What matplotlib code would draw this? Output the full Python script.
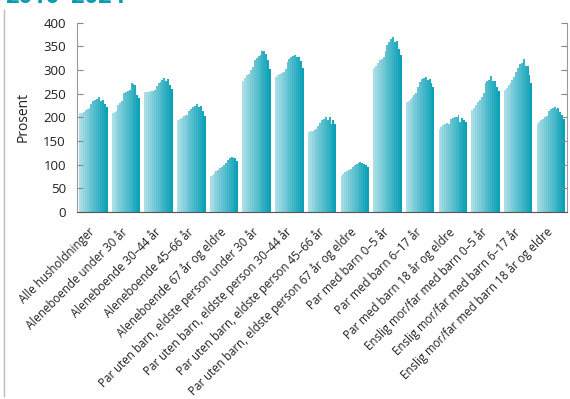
import numpy as np
import matplotlib
matplotlib.use("Agg")
import matplotlib.pyplot as plt
from matplotlib.colors import LinearSegmentedColormap

plt.rcParams['font.family'] = ['Open Sans', 'DejaVu Sans']

# Husholdningstyper
categories = [
    "Alle husholdninger",
    "Aleneboende under 30 år",
    "Aleneboende 30–44 år",
    "Aleneboende 45–66 år",
    "Aleneboende 67 år og eldre",
    "Par uten barn, eldste person under 30 år",
    "Par uten barn, eldste person 30–44 år",
    "Par uten barn, eldste person 45–66 år",
    "Par uten barn, eldste person 67 år og eldre",
    "Par med barn 0–5 år",
    "Par med barn 6–17 år",
    "Par med barn 18 år og eldre",
    "Enslig mor/far med barn 0–5 år",
    "Enslig mor/far med barn 6–17 år",
    "Enslig mor/far med barn 18 år og eldre",
]
years = list(range(2010, 2025))

# Prosent, ett tall per år (2010-2024) for hver husholdningstype
alle = [208, 210, 212, 215, 217, 219, 229, 234, 236, 238, 243, 234, 237, 229, 222]
alene_u30 = [210, 211, 213, 225, 230, 235, 251, 253, 255, 257, 272, 270, 268, 247, 240]
alene_30_44 = [253, 253, 254, 255, 255, 257, 265, 272, 275, 278, 282, 276, 280, 268, 260]
alene_45_66 = [195, 197, 199, 202, 204, 205, 213, 218, 222, 224, 227, 222, 224, 213, 203]
alene_67 = [75, 79, 82, 86, 88, 92, 96, 100, 104, 109, 113, 116, 115, 113, 107]
par_u30 = [277, 282, 289, 292, 299, 306, 320, 326, 329, 331, 339, 339, 334, 320, 301]
par_30_44 = [285, 290, 292, 293, 295, 302, 316, 323, 327, 330, 332, 328, 328, 318, 305]
par_45_66 = [169, 170, 172, 174, 176, 181, 187, 194, 196, 200, 194, 201, 186, 194, 185]
par_67 = [77, 80, 84, 86, 88, 91, 95, 99, 101, 103, 105, 104, 101, 99, 95]
barn_0_5 = [303, 308, 315, 320, 323, 328, 340, 352, 359, 366, 370, 359, 362, 344, 332]
barn_6_17 = [232, 235, 238, 243, 248, 252, 264, 275, 280, 282, 286, 278, 280, 272, 264]
barn_18 = [176, 180, 183, 186, 187, 185, 196, 198, 200, 201, 204, 190, 198, 194, 190]
enslig_0_5 = [215, 220, 226, 232, 236, 242, 252, 272, 276, 278, 287, 277, 276, 264, 256]
enslig_6_17 = [257, 262, 268, 272, 278, 284, 295, 305, 312, 315, 322, 308, 308, 289, 272]
enslig_18 = [185, 190, 194, 197, 200, 202, 213, 217, 219, 221, 218, 220, 211, 205, 196]

series = [alle, alene_u30, alene_30_44, alene_45_66, alene_67, par_u30, par_30_44,
          par_45_66, par_67, barn_0_5, barn_6_17, barn_18, enslig_0_5, enslig_6_17, enslig_18]

cmap = LinearSegmentedColormap.from_list("teal", ["#abdee7", "#0aa0b6"])
n_years = len(years)
group_w = 0.87
bar_w = group_w / n_years

fig = plt.figure(figsize=(5.7, 3.99), dpi=100)
ax = fig.add_axes([0.135, 0.4687, 0.86, 0.4749])

data = np.array(series)
for j in range(n_years):
    x = np.arange(len(categories)) - group_w / 2 + (j + 0.5) * bar_w
    ax.bar(x, data[:, j], width=bar_w, color=cmap(j / (n_years - 1)), linewidth=0)

ax.set_xlim(-0.5, len(categories) - 0.5)
ax.set_ylim(0, 400)
ax.set_yticks(np.arange(0, 401, 50))
ax.set_ylabel("Prosent", fontsize=10, color="#222222", labelpad=9)
ax.set_xticks(np.arange(len(categories)))
ax.set_xticklabels(categories, rotation=45, ha="right", va="center",
                   rotation_mode="anchor", fontsize=8.3, color="#222222")
ax.tick_params(axis="x", length=0, pad=13)
ax.tick_params(axis="y", direction="in", length=4, color="#888888",
               labelsize=9.5, labelcolor="#222222", right=True, pad=8)
ax.spines["top"].set_visible(False)
for s in ["left", "right"]:
    ax.spines[s].set_color("#999999")
ax.spines["bottom"].set_color("#555555")

# Rest av tittel og ramme som er kuttet i bildet
fig.text(0.008, 1.038, "2010–2024", fontsize=17, fontweight="bold",
         color="#0a9bb0", va="top", ha="left")
fig.add_artist(plt.Line2D([0.007, 0.007], [0.008, 0.975], color="#bbbbbb",
                          linewidth=1, transform=fig.transFigure))

fig.savefig("out.png", dpi=100)
